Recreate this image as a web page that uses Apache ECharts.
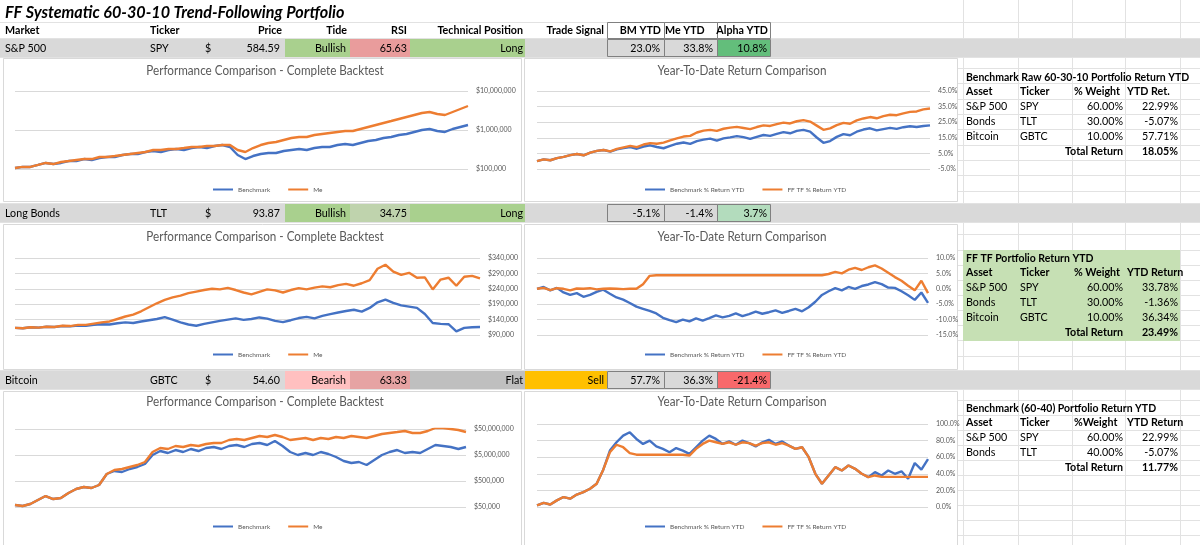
<!DOCTYPE html>
<html>
<head>
<meta charset="utf-8">
<script src="https://cdn.jsdelivr.net/npm/echarts@6.0.0/dist/echarts.min.js"></script>
<style>
html,body{margin:0;padding:0;background:#fff;overflow:hidden;}
#chart{width:1200px;height:545px;}
</style>
</head>
<body>
<div id="chart"></div>
<script>
// ================= DATA =================
const sheetTitle = 'FF Systematic 60-30-10 Trend-Following Portfolio';
const headerLabels = ['Market','Ticker','Price','Tide','RSI','Technical Position','Trade Signal','BM YTD','Me YTD','Alpha YTD'];
const markets   = ['S&P 500','Long Bonds','Bitcoin'];
const tickers   = ['SPY','TLT','GBTC'];
const prices    = ['584.59','93.87','54.60'];
const tides     = ['Bullish','Bullish','Bearish'];
const rsis      = ['65.63','34.75','63.33'];
const positions = ['Long','Long','Flat'];
const signals   = ['','','Sell'];
const bmYtd     = ['23.0%','-5.1%','57.7%'];
const meYtd     = ['33.8%','-1.4%','36.3%'];
const alphaYtd  = ['10.8%','3.7%','-21.4%'];

const perfTitle = 'Performance Comparison - Complete Backtest';
const ytdTitle  = 'Year-To-Date Return Comparison';
const perfNames = ['Benchmark','Me'];
const ytdNames  = ['Benchmark % Return YTD','FF TF % Return YTD'];

const t1Title = 'Benchmark Raw 60-30-10 Portfolio Return YTD';
const t1Head  = ['Asset','Ticker','% Weight','YTD Ret.'];
const t1Rows  = [['S&P 500','SPY','60.00%','22.99%'],['Bonds','TLT','30.00%','-5.07%'],['Bitcoin','GBTC','10.00%','57.71%']];
const t1Total = '18.05%';
const t2Title = 'FF TF Portfolio Return YTD';
const t2Head  = ['Asset','Ticker','% Weight','YTD Return'];
const t2Rows  = [['S&P 500','SPY','60.00%','33.78%'],['Bonds','TLT','30.00%','-1.36%'],['Bitcoin','GBTC','10.00%','36.34%']];
const t2Total = '23.49%';
const t3Title = 'Benchmark (60-40) Portfolio Return YTD';
const t3Head  = ['Asset','Ticker','%Weight','YTD Return'];
const t3Rows  = [['S&P 500','SPY','60.00%','22.99%'],['Bonds','TLT','40.00%','-5.07%']];
const t3Total = '11.77%';
const totalLabel = 'Total Return';

// axis tick labels
const spyYtdTicks  = [-5,5,15,25,35,45];
const tltPerfTicks = [90000,140000,190000,240000,290000,340000];
const btcPerfTicks = [50000,500000,5000000,50000000];

// time index (x categories, hidden like the source)
const periods = Array.from({length:60},(_,i)=>'P'+(i+1));

// S&P 500
const spyPerfBench = [106000,113000,113000,127000,143000,134000,143000,160000,160000,180000,170000,191000,203000,203000,229000,242000,242000,273000,289000,273000,307000,326000,307000,345000,367000,345000,389000,412000,367000,229000,180000,215000,242000,257000,257000,289000,307000,326000,307000,345000,367000,367000,412000,438000,412000,464000,522000,554000,624000,662000,744000,790000,889000,1000000,1061000,943000,889000,1061000,1194000,1344000];
const spyPerfMe    = [106000,113000,113000,127000,143000,134000,151000,160000,170000,180000,180000,203000,203000,215000,229000,242000,257000,273000,307000,307000,326000,326000,345000,367000,367000,389000,389000,412000,412000,307000,273000,345000,412000,464000,492000,554000,624000,662000,662000,744000,790000,838000,889000,943000,943000,1061000,1194000,1344000,1512000,1701000,1915000,2154000,2424000,2728000,2894000,2572000,2424000,2894000,3455000,4125000];
const spyYtdBench  = [0.0,1.2,0.6,2.0,2.8,3.9,4.6,3.8,5.5,6.6,7.2,6.1,7.6,8.4,9.1,8.0,9.4,10.2,9.1,8.3,9.8,11.2,12.0,11.1,12.9,13.8,14.5,13.2,14.6,15.3,16.1,15.4,14.3,15.6,16.8,16.2,17.5,18.6,17.9,19.4,20.1,19.0,15.2,11.8,12.9,15.6,17.4,16.6,18.9,20.3,21.1,19.8,20.6,21.4,20.7,21.8,22.4,21.9,22.6,23.0];
const spyYtdMe     = [0.0,1.2,0.6,2.0,2.8,3.9,4.6,3.8,5.5,6.6,7.2,6.3,7.9,8.9,9.8,9.0,10.7,11.6,11.2,11.9,13.3,14.6,15.8,16.2,18.4,19.6,20.1,19.4,20.8,21.5,22.0,21.3,20.6,21.9,23.0,22.6,23.8,24.7,24.2,25.6,26.3,25.4,22.8,20.1,21.0,23.1,24.6,24.0,26.2,27.4,28.3,27.5,28.9,29.8,29.5,30.7,31.6,31.9,33.2,33.8];

// Long Bonds
const tltPerfBench = [113000,112000,115000,114000,117000,116000,119000,118000,121000,120000,123000,125000,124000,128000,131000,129000,134000,138000,142000,148000,140000,131000,124000,120000,126000,131000,136000,140000,144000,139000,142000,147000,143000,136000,132000,138000,145000,149000,144000,152000,158000,163000,168000,172000,166000,178000,196000,205000,194000,186000,182000,178000,158000,129000,126000,125000,102000,113000,115000,116000];
const tltPerfMe    = [113000,112000,115000,114000,117000,116000,120000,119000,123000,123000,127000,131000,134000,142000,150000,156000,167000,180000,193000,204000,212000,218000,226000,231000,236000,240000,238000,243000,236000,228000,222000,230000,238000,235000,228000,236000,242000,238000,244000,248000,245000,252000,256000,250000,258000,268000,305000,318000,296000,285000,292000,276000,277000,238000,270000,276000,250000,279000,282000,274000];
const tltYtdBench  = [0.0,0.6,-0.5,0.3,-1.2,-2.0,-1.4,-2.6,-2.0,-1.0,-0.3,-1.6,-2.8,-3.5,-4.6,-5.8,-6.5,-7.2,-8.0,-9.4,-10.2,-10.8,-10.0,-10.6,-9.6,-10.3,-9.5,-8.6,-9.3,-8.8,-8.0,-8.9,-8.2,-7.4,-8.1,-7.6,-7.0,-7.8,-7.2,-6.5,-7.3,-6.0,-4.2,-2.0,-0.8,0.2,-0.5,0.6,0.0,0.9,1.4,2.2,1.5,0.4,0.3,-0.8,-2.1,-3.6,-1.2,-4.6];
const tltYtdMe     = [0.0,0.3,-0.4,0.2,0.0,-0.5,0.1,0.0,0.2,-0.2,0.0,0.1,0.0,-0.1,0.0,0.0,1.5,4.2,4.4,4.4,4.4,4.4,4.4,4.4,4.4,4.4,4.4,4.4,4.4,4.4,4.4,4.4,4.4,4.4,4.4,4.4,4.4,4.4,4.4,4.4,4.4,4.4,4.4,4.4,4.8,5.5,5.0,6.2,6.8,6.1,7.0,7.6,6.6,5.2,3.8,2.6,1.0,-0.5,2.6,-1.4];

// Bitcoin
const btcPerfBench = [59700,54600,65200,92900,132000,101000,111000,173000,246000,294000,269000,351000,929000,1212000,1109000,1447000,1727000,2253000,5000000,7120000,5970000,7780000,6520000,8510000,7120000,9290000,10150000,8510000,11090000,12120000,10150000,13240000,14470000,12120000,17270000,11090000,6520000,5000000,5970000,5000000,6520000,5463000,4189000,2939000,2462000,2689000,2062000,3211000,5000000,6520000,7780000,5970000,6520000,5970000,8510000,12120000,11090000,10150000,8510000,10150000];
const btcPerfMe    = [59700,54600,65200,92900,132000,101000,111000,173000,246000,294000,269000,351000,929000,1324000,1447000,1727000,2062000,2689000,6520000,9290000,8510000,11090000,10150000,12120000,11090000,13240000,14470000,14470000,18870000,20620000,18870000,22530000,26900000,24620000,29400000,24620000,18870000,20620000,22530000,18870000,22530000,20620000,24620000,22530000,26900000,24620000,22530000,26900000,32100000,35100000,38300000,41900000,35100000,35100000,41900000,54600000,54600000,50000000,45800000,38300000];
const btcYtdBench  = [2,5,3,8,12,10,15,18,22,28,45,68,78,86,90,82,76,80,73,70,66,71,68,64,72,80,86,82,76,79,75,80,77,73,78,81,76,79,74,70,72,60,40,28,38,48,44,50,46,40,36,42,38,44,40,43,34,53,45,57.7];
const btcYtdMe     = [2,5,3,8,12,10,15,18,22,28,45,66,75,72,65,63,63,63,63,63,63,63,63,62,70,76,80,78,76,78,75,78,77,74,77,78,75,77,74,70,72,60,40,28,38,48,44,50,46,40,36,38,36.3,36.3,36.3,36.3,36.3,36.3,36.3,36.3];

// ================= DRAWING =================
const FONT = 'Lato, "Open Sans", sans-serif';
const SX = 0.93;
const BLUE = '#4472c4', ORANGE = '#ed7d31', GRAYTXT = '#595959';
const G = [];
function rect(x,y,w,h,fill,stroke,z){
  G.push({type:'rect',z:(z==null?1:z),silent:true,shape:{x:x,y:y,width:w,height:h},
    style:{fill:fill||'none',stroke:stroke||null,lineWidth:1}});
}
function line(x1,y1,x2,y2,c,z){
  G.push({type:'line',z:(z==null?0:z),silent:true,shape:{x1:x1,y1:y1,x2:x2,y2:y2},style:{stroke:c,lineWidth:1}});
}
function txt(s,x,y,o){
  o=o||{};
  G.push({type:'text',z:6,silent:true,x:x,y:y,scaleX:(o.sx==null?SX:o.sx),
    style:{text:s,fill:o.color||'#000',fontSize:o.size||11.5,fontWeight:o.bold?'bold':'normal',
      fontStyle:o.italic?'italic':'normal',fontFamily:FONT,align:o.align||'left',verticalAlign:'middle'}});
}

// sheet gridlines
const LG = '#e2e2e2';
[963.5,1018.5,1072.5,1125.5,1180.5].forEach(x=>line(x,0,x,545,LG));
[68.5,83.5,99.5,114.5,129.5,145.5,160.5,175.5,191.5,234.5,250.5,265.5,280.5,295.5,310.5,325.5,340.5,356.5,
 400.5,415.5,430.5,445.5,460.5,475.5,490.5,505.5,520.5,535.5].forEach(y=>line(957,y,1200,y,LG));
[22.5,38.5,57.5,203.5,222.5,370.5,389.5].forEach(y=>line(0,y,1200,y,LG));

// chart panels
[[3,58,518,143],[524,58,433,143],[3,224,518,145],[524,224,433,145],[3,391,518,154],[524,391,433,154]]
  .forEach(p=>rect(p[0]+0.5,p[1]+0.5,p[2],p[3],'#fff','#d9d9d9',1));

// title + header
txt(sheetTitle,5,13,{bold:true,italic:true,size:17,sx:0.95});
const hy = 30.5;
txt(headerLabels[0],5,hy,{bold:true});
txt(headerLabels[1],150,hy,{bold:true});
txt(headerLabels[2],282,hy,{bold:true,align:'right'});
txt(headerLabels[3],347,hy,{bold:true,align:'right'});
txt(headerLabels[4],407,hy,{bold:true,align:'right'});
txt(headerLabels[5],523,hy,{bold:true,align:'right'});
txt(headerLabels[6],604,hy,{bold:true,align:'right'});
txt(headerLabels[7],661,hy,{bold:true,align:'right'});
txt(headerLabels[8],665,hy,{bold:true});
txt(headerLabels[9],768,hy,{bold:true,align:'right'});
[[607,57],[664,53],[717,53]].forEach(c=>rect(c[0]+0.5,22.5,c[1],16,'none','#808080',2));

// market rows
const bandY = [39,204,371];
const tideFill = ['#a9d08e','#a9d08e','#ffc0c0'];
const rsiFill  = ['#e99c9c','#bfd3ad','#e6a3a3'];
const posFill  = ['#a9d08e','#a9d08e','#bfbfbf'];
const sigFill  = [null,null,'#ffc000'];
const alphaFill= ['#63be7b','#b3dcbd','#f8696b'];
bandY.forEach((y,i)=>{
  rect(0,y,1200,18,'#d9d9d9',null,1);
  rect(285,y,65,18,tideFill[i],null,2);
  rect(350,y,60,18,rsiFill[i],null,2);
  rect(410,y,115,18,posFill[i],null,2);
  if(sigFill[i]) rect(525,y,82,18,sigFill[i],null,2);
  rect(717,y,53,18,alphaFill[i],null,2);
  [[607,57],[664,53],[717,53]].forEach(c=>rect(c[0]+0.5,y+0.5,c[1],17,'none','#808080',3));
  const cy = y+9.5;
  txt(markets[i],5,cy);
  txt(tickers[i],150,cy);
  txt('$',205,cy);
  txt(prices[i],280,cy,{align:'right'});
  txt(tides[i],346,cy,{align:'right'});
  txt(rsis[i],407,cy,{align:'right'});
  txt(positions[i],523,cy,{align:'right'});
  if(signals[i]) txt(signals[i],604,cy,{align:'right'});
  txt(bmYtd[i],660,cy,{align:'right'});
  txt(meYtd[i],713,cy,{align:'right'});
  txt(alphaYtd[i],767,cy,{align:'right'});
});

// chart titles
[71,237,402].forEach(y=>{
  txt(perfTitle,265,y,{size:12.5,color:GRAYTXT,align:'center',sx:0.935});
  txt(ytdTitle,742,y,{size:12.5,color:GRAYTXT,align:'center',sx:0.935});
});

// right-hand tables
rect(963,250,217,91,'#c6e0b4',null,1);
function table(title,head,rows,total,y0){
  txt(title,966,y0,{bold:true,sx:0.91});
  const hy = y0+14.5;
  txt(head[0],966,hy,{bold:true}); txt(head[1],1020,hy,{bold:true});
  txt(head[2],1074,hy,{bold:true}); txt(head[3],1127,hy,{bold:true});
  rows.forEach((r,k)=>{
    const y = y0+29.5+15*k;
    txt(r[0],966,y); txt(r[1],1020,y); txt(r[2],1123,y,{align:'right'}); txt(r[3],1178,y,{align:'right'});
  });
  const ty = y0+29.5+15*rows.length;
  txt(totalLabel,1123,ty,{bold:true,align:'right'});
  txt(total,1178,ty,{bold:true,align:'right'});
}
table(t1Title,t1Head,t1Rows,t1Total,77);
table(t2Title,t2Head,t2Rows,t2Total,258);
table(t3Title,t3Head,t3Rows,t3Total,408);

// ================= ECHARTS OPTION =================
const grids = [
  {left:15, top:91, width:453, height:78},
  {left:537, top:91, width:393, height:78},
  {left:15, top:258, width:465, height:77},
  {left:537, top:258, width:391, height:77},
  {left:15, top:429, width:451, height:78},
  {left:537, top:424, width:391, height:83}
];
const money = v => '$' + Math.round(v).toLocaleString('en-US');
const pct = v => Number(v).toFixed(1) + '%';
const lab = (fmt, extra) => Object.assign({color:GRAYTXT, fontSize:7, fontFamily:FONT, margin:8, align:'left', formatter:fmt}, extra||{});
const split = {show:true, lineStyle:{color:'#d9d9d9', width:1}};
const yAxes = [
  {gridIndex:0, type:'log', logBase:10, min:1e5, max:1e7, axisLabel:lab(money)},
  {gridIndex:1, type:'value', min:-5, max:45, axisLabel:lab(pct,{customValues:spyYtdTicks}), axisTick:{show:false, customValues:spyYtdTicks}},
  {gridIndex:2, type:'value', min:90000, max:340000, axisLabel:lab(money,{customValues:tltPerfTicks}), axisTick:{show:false, customValues:tltPerfTicks}},
  {gridIndex:3, type:'value', min:-15, max:10, interval:5, axisLabel:lab(pct)},
  {gridIndex:4, type:'log', logBase:10, min:5e4, max:5e7, axisLabel:lab(money,{customValues:btcPerfTicks}), axisTick:{show:false, customValues:btcPerfTicks}},
  {gridIndex:5, type:'value', min:0, max:100, interval:20, axisLabel:lab(pct)}
].map(a => Object.assign({position:'right', z:3, axisLine:{show:false}, axisTick:{show:false}, splitLine:split}, a));
const xAxes = grids.map((g,i)=>({type:'category', gridIndex:i, data:periods, boundaryGap:false, show:false}));

function ser(name, idx, data, color){
  return {type:'line', name:name, xAxisIndex:idx, yAxisIndex:idx, data:data, symbol:'none', showSymbol:false,
    z:4, lineStyle:{color:color, width:2.4}, itemStyle:{color:color}, emphasis:{disabled:true}};
}
const series = [
  ser(perfNames[0],0,spyPerfBench,BLUE), ser(perfNames[1],0,spyPerfMe,ORANGE),
  ser(ytdNames[0],1,spyYtdBench,BLUE),   ser(ytdNames[1],1,spyYtdMe,ORANGE),
  ser(perfNames[0],2,tltPerfBench,BLUE), ser(perfNames[1],2,tltPerfMe,ORANGE),
  ser(ytdNames[0],3,tltYtdBench,BLUE),   ser(ytdNames[1],3,tltYtdMe,ORANGE),
  ser(perfNames[0],4,btcPerfBench,BLUE), ser(perfNames[1],4,btcPerfMe,ORANGE),
  ser(ytdNames[0],5,btcYtdBench,BLUE),   ser(ytdNames[1],5,btcYtdMe,ORANGE)
];
function leg(left, top, names){
  return {left:left, top:top, z:5, padding:0, itemWidth:20, itemHeight:2, itemGap:18, icon:'rect', selectedMode:false,
    textStyle:{fontSize:6.5, color:GRAYTXT, fontFamily:FONT}, data:names};
}
const legends = [
  leg(213,186,perfNames), leg(645,186,ytdNames),
  leg(213,351,perfNames), leg(645,351,ytdNames),
  leg(213,523,perfNames), leg(645,523,ytdNames)
];

const chart = echarts.init(document.getElementById('chart'), null, {renderer:'canvas'});
chart.setOption({
  animation:false,
  backgroundColor:'#ffffff',
  grid:grids,
  xAxis:xAxes,
  yAxis:yAxes,
  legend:legends,
  series:series,
  graphic:{elements:G}
});
</script>
</body>
</html>
